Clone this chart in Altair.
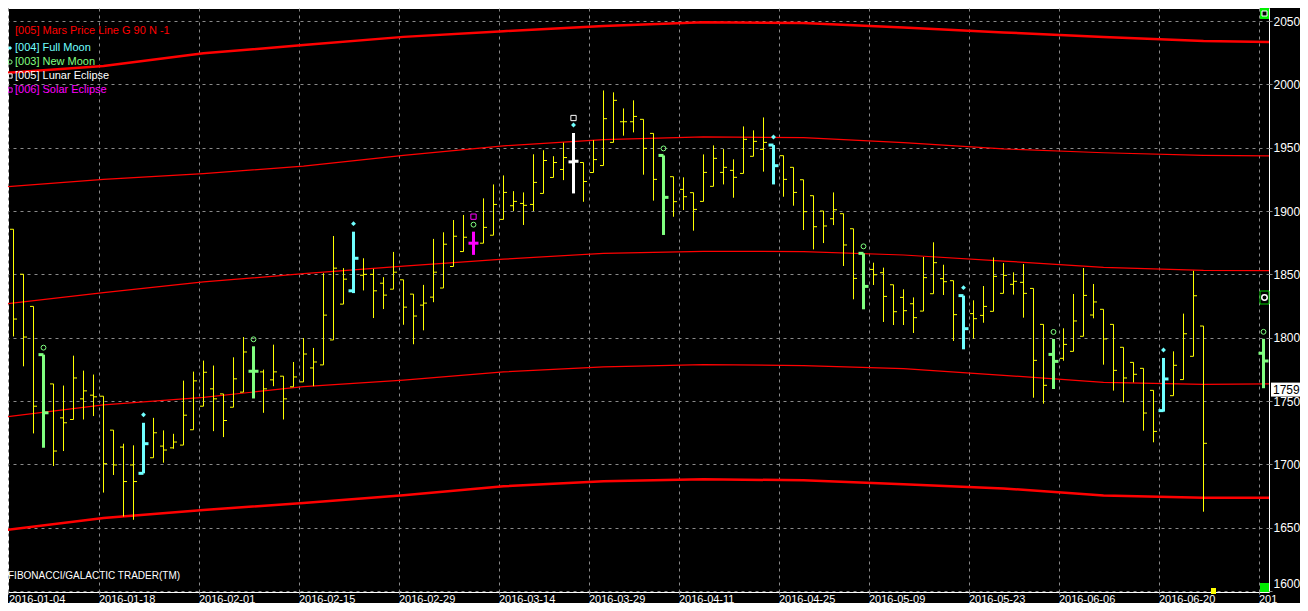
import altair as alt
import pandas as pd
import numpy as np

# ---------------- data ----------------
bar_index = list(range(0, 121)) + [126]

opens = [1890.3, 1885.6, 1850.1, 1824.7, 1786.6, 1763.5, 1736.7, 1735.4, 1751.7, 1754.6,
         1753.8, 1727.0, 1713.6, 1699.5, 1692.9, 1705.2, 1714.4, 1713.0, 1715.2, 1727.3,
         1745.9, 1759.6, 1755.6, 1745.1, 1757.0, 1773.5, 1773.0, 1766.7, 1769.6, 1761.2,
         1765.1, 1776.1, 1778.5, 1798.2, 1826.5, 1837.0, 1849.3, 1850.0, 1843.0, 1838.3,
         1845.7, 1834.4, 1825.7, 1832.0, 1839.2, 1856.2, 1868.0, 1874.6, 1874.6, 1880.9,
         1893.4, 1904.2, 1906.0, 1905.2, 1913.9, 1926.5, 1932.8, 1938.8, 1938.3, 1930.4,
         1935.9, 1954.2, 1970.5, 1970.5, 1972.4, 1961.3, 1943.9, 1927.1, 1917.1, 1914.5,
         1907.6, 1919.5, 1930.5, 1932.1, 1929.7, 1943.2, 1948.7, 1952.1, 1943.7, 1934.5,
         1924.7, 1912.1, 1900.0, 1893.9, 1897.9, 1886.0, 1866.6, 1853.9, 1851.3, 1841.8,
         1831.8, 1826.8, 1821.0, 1834.7, 1846.6, 1845.0, 1833.2, 1819.0, 1817.6, 1820.8,
         1835.0, 1842.1, 1843.7, 1838.9, 1810.5, 1786.8, 1783.7, 1789.2, 1801.1, 1817.9,
         1822.4, 1810.5, 1792.4, 1780.5, 1775.8, 1758.4, 1742.4, 1754.2, 1766.9, 1785.3,
         1809.2, 1787.7]

highs = [1906.8, 1885.6, 1850.1, 1824.7, 1786.6, 1763.5, 1762.2, 1785.8, 1774.0, 1770.9,
         1753.8, 1727.0, 1716.3, 1715.0, 1732.8, 1736.7, 1726.8, 1724.1, 1766.1, 1773.2,
         1781.9, 1778.0, 1755.6, 1784.5, 1800.5, 1793.2, 1774.8, 1794.5, 1769.6, 1780.8,
         1799.7, 1791.9, 1850.9, 1880.3, 1854.9, 1883.7, 1862.7, 1854.3, 1847.8, 1867.7,
         1845.7, 1834.4, 1841.7, 1878.0, 1883.2, 1892.9, 1896.9, 1883.7, 1910.0, 1921.0,
         1928.1, 1915.7, 1914.7, 1944.8, 1948.0, 1943.3, 1954.0, 1961.6, 1938.3, 1955.9,
         1995.2, 1993.7, 1981.0, 1987.4, 1972.4, 1961.3, 1943.9, 1927.1, 1926.6, 1914.5,
         1944.7, 1951.8, 1948.9, 1940.8, 1966.8, 1963.7, 1973.9, 1952.1, 1943.7, 1934.5,
         1924.7, 1912.1, 1900.0, 1914.7, 1897.9, 1886.0, 1866.6, 1859.2, 1855.3, 1841.8,
         1838.2, 1831.8, 1863.7, 1875.3, 1857.6, 1845.0, 1833.2, 1829.5, 1840.8, 1863.4,
         1858.9, 1851.6, 1858.2, 1838.9, 1810.5, 1799.0, 1807.4, 1834.5, 1855.0, 1842.4,
         1822.4, 1810.5, 1792.4, 1780.5, 1775.8, 1758.4, 1784.0, 1789.2, 1819.0, 1852.8,
         1809.2, 1799.1]

lows = [1858.8, 1801.0, 1777.4, 1724.4, 1713.1, 1698.7, 1710.5, 1735.4, 1735.4, 1738.1,
        1677.7, 1691.6, 1658.8, 1656.2, 1692.9, 1705.2, 1701.3, 1712.3, 1715.2, 1727.3,
        1745.9, 1726.2, 1721.5, 1745.1, 1757.0, 1752.0, 1740.7, 1761.7, 1735.4, 1761.2,
        1765.1, 1761.7, 1778.5, 1798.2, 1826.5, 1835.2, 1837.3, 1815.5, 1822.6, 1838.3,
        1810.2, 1794.8, 1805.8, 1828.0, 1839.2, 1856.2, 1868.0, 1865.4, 1874.6, 1880.9,
        1893.4, 1900.0, 1889.0, 1900.0, 1913.9, 1926.5, 1924.4, 1913.9, 1907.3, 1930.4,
        1935.9, 1954.2, 1959.5, 1962.1, 1928.7, 1908.2, 1881.1, 1895.5, 1900.8, 1884.5,
        1907.6, 1919.5, 1921.0, 1910.5, 1929.7, 1943.2, 1931.1, 1921.0, 1911.3, 1904.2,
        1885.0, 1869.7, 1874.7, 1888.9, 1856.6, 1830.3, 1822.4, 1841.6, 1812.4, 1810.0,
        1810.0, 1803.7, 1821.0, 1834.7, 1833.7, 1797.4, 1790.8, 1799.2, 1811.8, 1820.8,
        1835.0, 1834.0, 1815.8, 1752.6, 1747.9, 1759.5, 1781.8, 1789.2, 1801.1, 1815.3,
        1778.7, 1758.2, 1748.9, 1764.7, 1726.6, 1717.4, 1741.6, 1754.2, 1766.9, 1785.3,
        1662.6, 1760.1]

closes = [1881.1, 1814.7, 1800.5, 1745.9, 1740.7, 1710.5, 1732.8, 1768.2, 1758.0, 1753.3,
          1700.5, 1699.5, 1686.4, 1686.4, 1716.3, 1724.9, 1711.3, 1717.6, 1738.8, 1765.9,
          1772.7, 1751.7, 1734.6, 1767.5, 1788.7, 1773.5, 1759.6, 1773.0, 1751.7, 1769.0,
          1787.1, 1780.8, 1817.8, 1854.9, 1846.2, 1862.7, 1850.0, 1837.0, 1833.6, 1851.7,
          1824.1, 1817.1, 1827.3, 1851.7, 1873.8, 1880.1, 1879.3, 1874.6, 1887.1, 1905.2,
          1914.7, 1907.6, 1904.5, 1922.6, 1939.9, 1938.3, 1942.2, 1939.3, 1923.3, 1940.6,
          1972.9, 1987.4, 1970.5, 1974.7, 1949.5, 1925.0, 1910.8, 1907.4, 1911.3, 1901.3,
          1930.5, 1941.6, 1934.5, 1926.6, 1956.6, 1955.0, 1954.2, 1935.8, 1925.0, 1914.7,
          1899.5, 1887.6, 1888.2, 1901.0, 1873.2, 1846.8, 1840.5, 1849.7, 1832.6, 1820.5,
          1821.3, 1815.8, 1847.4, 1859.2, 1844.2, 1818.2, 1807.1, 1815.0, 1824.7, 1848.4,
          1849.2, 1844.5, 1835.0, 1782.1, 1762.4, 1781.3, 1794.7, 1813.2, 1833.4, 1828.2,
          1799.0, 1774.2, 1768.2, 1771.1, 1740.5, 1726.0, 1767.4, 1778.2, 1803.1, 1833.1,
          1716.6, 1781.6]

new_moon_bars = [4, 25, 47, 66, 86, 105, 126]
full_moon_bars = [14, 35, 57, 77, 96, 116]
lunar_eclipse_bars = [57]
solar_eclipse_bars = [47]

curve_index = [0, 10, 20, 30, 40, 50, 60, 70, 80, 90, 100, 110, 120, 127]
mars_top = [2009.0, 2014.5, 2024.5, 2031.0, 2037.5, 2042.0, 2046.0, 2049.0, 2048.5, 2045.0, 2041.0, 2037.5, 2034.2, 2033.5]
mars_upper = [1919.0, 1925.0, 1929.5, 1935.5, 1944.0, 1951.5, 1956.3, 1958.5, 1958.0, 1954.0, 1949.0, 1946.0, 1944.0, 1943.5]
mars_mid = [1826.5, 1835.5, 1844.0, 1850.5, 1856.5, 1862.0, 1866.6, 1868.2, 1868.0, 1865.3, 1860.5, 1855.5, 1853.2, 1853.0]
mars_lower = [1737.3, 1747.0, 1752.8, 1761.4, 1766.5, 1773.0, 1777.0, 1778.7, 1778.0, 1775.6, 1770.3, 1764.7, 1763.2, 1763.5]
mars_bottom = [1648.0, 1657.7, 1664.0, 1669.5, 1675.6, 1682.7, 1686.7, 1688.2, 1687.4, 1684.3, 1681.0, 1675.3, 1673.6, 1673.6]

date_positions = [0.5, 9.5, 19.5, 29.5, 39.5, 49.5, 58.5, 67.5, 77.5, 86.5, 96.5, 105.5, 115.5, 125.5]
date_labels = ["2016-01-04", "2016-01-18", "2016-02-01", "2016-02-15", "2016-02-29", "2016-03-14",
               "2016-03-29", "2016-04-11", "2016-04-25", "2016-05-09", "2016-05-23", "2016-06-06",
               "2016-06-20", "201"]
price_ticks = [1600, 1650, 1700, 1750, 1800, 1850, 1900, 1950, 2000, 2050]
last_price = [1759]

legend_title = "[005] Mars Price Line G 90 N -1"
legend_labels = ["[004] Full Moon", "[003] New Moon", "[005] Lunar Eclipse", "[006] Solar Eclipse"]
legend_colors = ["#70FFFF", "#80FF80", "#FFFFFF", "#FF00FF"]
legend_shapes = ["diamond", "circle", "square", "square"]
legend_filled = [True, False, False, False]

# ---------------- tables ----------------
YELLOW = "#FFFF00"
GREEN = "#80FF80"
CYAN = "#70FFFF"
MAGENTA = "#FF00FF"
WHITE = "#FFFFFF"
RED = "#FF0000"
GRID = "#8a8a8a"
FONT = "Liberation Sans, Arial, sans-serif"

kinds = []
for i in bar_index:
    if i in solar_eclipse_bars:
        kinds.append(MAGENTA)
    elif i in lunar_eclipse_bars:
        kinds.append(WHITE)
    elif i in full_moon_bars:
        kinds.append(CYAN)
    elif i in new_moon_bars:
        kinds.append(GREEN)
    else:
        kinds.append(YELLOW)

bars = pd.DataFrame({"i": bar_index, "open": opens, "high": highs, "low": lows,
                     "close": closes, "col": kinds})
special = bars["col"] != YELLOW
bars["sw"] = np.where(special, 3.0, 1.0)
bars["xl"] = bars["i"] - np.where(special, 0.5, 0.35)
bars["xr"] = bars["i"] + np.where(special, 0.5, 0.35)

curves = pd.concat([
    pd.DataFrame({"idx": curve_index, "price": vals, "curve": name, "w": w})
    for name, vals, w in [("top", mars_top, 2.5), ("upper", mars_upper, 1.2),
                          ("mid", mars_mid, 1.2), ("lower", mars_lower, 1.2),
                          ("bottom", mars_bottom, 2.5)]
])

nm = bars[bars["i"].isin(new_moon_bars)]
fm = bars[bars["i"].isin(full_moon_bars)]
le = bars[bars["i"].isin(lunar_eclipse_bars)]
se = bars[bars["i"].isin(solar_eclipse_bars)]

# ---------------- scales / axes ----------------
W, H = 1261, 584
xscale = alt.Scale(domain=[0.45, 126.55], nice=False, zero=False)
yscale = alt.Scale(domain=[1599.2, 2060.3], nice=False, zero=False)

label_expr = ("[" + ",".join("'%s'" % s for s in date_labels) + "][indexof(["
              + ",".join(str(p) for p in date_positions) + "], datum.value)]")

xaxis = alt.Axis(values=date_positions, labelExpr=label_expr, grid=True, gridColor=GRID,
                 gridDash=[3, 4], gridWidth=1, ticks=True, tickSize=2, tickColor=GRID,
                 labelColor="white", labelFont=FONT, labelFontSize=11, labelAlign="left",
                 labelBaseline="alphabetic", labelPadding=8, labelOverlap=False,
                 labelFlush=False, labelBound=False, domain=False, title=None)
yaxis = alt.Axis(orient="right", values=price_ticks, grid=True, gridColor=GRID,
                 gridDash=[3, 4], gridWidth=1, tickSize=3, tickColor=GRID,
                 labelColor="white", labelFont=FONT, labelFontSize=12, labelPadding=1,
                 labelBaseline={"condition": {"test": "datum.value <= 1600", "value": "bottom"},
                                "value": "middle"},
                 labelOverlap=False, labelFlush=False,
                 labelBound=False, format="d", domain=False, title=None)


def X(f):
    return alt.X(f, type="quantitative", scale=xscale, axis=xaxis)


def Y(f):
    return alt.Y(f, type="quantitative", scale=yscale, axis=yaxis)


layers = []

# Mars price lines
layers.append(
    alt.Chart(curves).mark_line(clip=True, color=RED).encode(
        x=X("idx"), y=Y("price"), detail="curve:N",
        strokeWidth=alt.StrokeWidth("w:Q", scale=None))
)

# OHLC bars
layers.append(
    alt.Chart(bars).mark_rule(clip=True).encode(
        x=X("i"), y=Y("low"), y2="high",
        color=alt.Color("col:N", scale=None),
        strokeWidth=alt.StrokeWidth("sw:Q", scale=None))
)
layers.append(
    alt.Chart(bars).mark_rule(clip=True).encode(
        x=X("xl"), x2="i", y=Y("open"),
        color=alt.Color("col:N", scale=None),
        strokeWidth=alt.StrokeWidth("sw:Q", scale=None))
)
layers.append(
    alt.Chart(bars).mark_rule(clip=True).encode(
        x=X("i"), x2="xr", y=Y("close"),
        color=alt.Color("col:N", scale=None),
        strokeWidth=alt.StrokeWidth("sw:Q", scale=None))
)

# Moon / eclipse markers
layers.append(alt.Chart(nm).mark_point(shape="circle", filled=False, size=24, strokeWidth=1,
                                       color=GREEN, yOffset=-7, opacity=1)
              .encode(x=X("i"), y=Y("high")))
layers.append(alt.Chart(fm).mark_point(shape="diamond", filled=True, size=24,
                                       color=CYAN, yOffset=-8, opacity=1)
              .encode(x=X("i"), y=Y("high")))
layers.append(alt.Chart(le).mark_point(shape="square", filled=False, size=28, strokeWidth=1,
                                       color=WHITE, yOffset=-15, opacity=1)
              .encode(x=X("i"), y=Y("high")))
layers.append(alt.Chart(se).mark_point(shape="square", filled=False, size=28, strokeWidth=1,
                                       color=MAGENTA, yOffset=-15, opacity=1)
              .encode(x=X("i"), y=Y("high")))

one = pd.DataFrame({"a": [0]})

# Legend (top-left)
layers.append(alt.Chart(one).mark_text(text=legend_title, color=RED, font=FONT, fontSize=11,
                                       align="left", baseline="middle")
              .encode(x=alt.value(7), y=alt.value(22.5)))
for n, (lab, col, shp, fil) in enumerate(zip(legend_labels, legend_colors, legend_shapes, legend_filled)):
    yy = 40 + 14 * n
    layers.append(alt.Chart(one).mark_text(text=lab, color=col, font=FONT, fontSize=11,
                                           align="left", baseline="middle")
                  .encode(x=alt.value(7), y=alt.value(yy)))
    layers.append(alt.Chart(one).mark_point(shape=shp, filled=fil, size=18, strokeWidth=1,
                                            color=col, opacity=1)
                  .encode(x=alt.value(2), y=alt.value(yy)))

# Footer text
layers.append(alt.Chart(one).mark_text(text="FIBONACCI/GALACTIC TRADER(TM)", color="white",
                                       font="Liberation Sans Narrow, Arial Narrow, Liberation Sans, Arial",
                                       fontSize=10, align="left", baseline="middle")
              .encode(x=alt.value(0), y=alt.value(568)))

# Last price tag
lp = pd.DataFrame({"v": last_price})
layers.append(alt.Chart(lp).mark_rect(color="white", height=14)
              .encode(x=alt.value(1263), x2=alt.value(1292), y=Y("v")))
layers.append(alt.Chart(lp).mark_text(color="black", font=FONT, fontSize=12, align="left",
                                      baseline="middle")
              .encode(x=alt.value(1265), y=Y("v"), text=alt.Text("v:Q", format="d")))

# Small platform widgets on the right edge
layers.append(alt.Chart(one).mark_rect(color="#00EE00")
              .encode(x=alt.value(1252), x2=alt.value(1261), y=alt.value(0), y2=alt.value(11)))
layers.append(alt.Chart(one).mark_rect(color="black", stroke="white", strokeWidth=1)
              .encode(x=alt.value(1254), x2=alt.value(1259), y=alt.value(3), y2=alt.value(8)))
layers.append(alt.Chart(one).mark_rect(color="#00EE00")
              .encode(x=alt.value(1252), x2=alt.value(1261), y=alt.value(575), y2=alt.value(584)))
layers.append(alt.Chart(one).mark_rect(color="black", stroke="#00CC00", strokeWidth=1)
              .encode(x=alt.value(1252), x2=alt.value(1261), y=alt.value(283), y2=alt.value(296)))
layers.append(alt.Chart(one).mark_point(shape="circle", filled=False, size=30, color="white",
                                        strokeWidth=1.5, opacity=1)
              .encode(x=alt.value(1256.5), y=alt.value(289.5)))
layers.append(alt.Chart(one).mark_rect(color=YELLOW)
              .encode(x=alt.value(1203), x2=alt.value(1208), y=alt.value(580), y2=alt.value(586)))

chart = alt.layer(*layers).properties(
    width=W, height=H,
    autosize=alt.AutoSizeParams(type="none"),
    padding={"left": 0, "top": 0, "right": 31, "bottom": 11},
).configure(background="black").configure_view(stroke="white", strokeWidth=1)

chart.save("out.html", embed_options={"renderer": "svg", "actions": False})
